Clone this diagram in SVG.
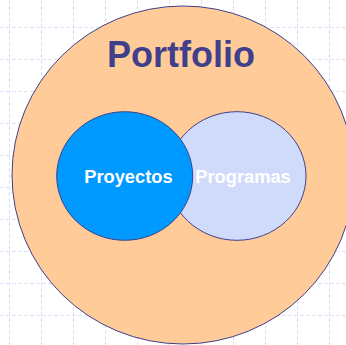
<svg xmlns="http://www.w3.org/2000/svg" width="346" height="345" viewBox="0 0 346 345">
<defs>
<style>
.grid line{stroke:#DCE2F6;stroke-width:1;stroke-dasharray:4 2}
.shape{stroke:#3F3F8C;stroke-width:1}
.lbl{font-family:"Liberation Sans",Arial,sans-serif;font-weight:bold;text-anchor:middle}
</style>
</defs>
<rect width="346" height="345" fill="#FFFFFF"/>
<g class="grid">
<line x1="9.5" y1="0" x2="9.5" y2="345"/>
<line x1="41.5" y1="0" x2="41.5" y2="345"/>
<line x1="73.5" y1="0" x2="73.5" y2="345"/>
<line x1="105.5" y1="0" x2="105.5" y2="345"/>
<line x1="137.5" y1="0" x2="137.5" y2="345"/>
<line x1="169.5" y1="0" x2="169.5" y2="345"/>
<line x1="201.5" y1="0" x2="201.5" y2="345"/>
<line x1="233.5" y1="0" x2="233.5" y2="345"/>
<line x1="265.5" y1="0" x2="265.5" y2="345"/>
<line x1="297.5" y1="0" x2="297.5" y2="345"/>
<line x1="329.5" y1="0" x2="329.5" y2="345"/>
<line x1="0" y1="27.5" x2="346" y2="27.5"/>
<line x1="0" y1="59.5" x2="346" y2="59.5"/>
<line x1="0" y1="91.5" x2="346" y2="91.5"/>
<line x1="0" y1="123.5" x2="346" y2="123.5"/>
<line x1="0" y1="155.5" x2="346" y2="155.5"/>
<line x1="0" y1="187.5" x2="346" y2="187.5"/>
<line x1="0" y1="219.5" x2="346" y2="219.5"/>
<line x1="0" y1="251.5" x2="346" y2="251.5"/>
<line x1="0" y1="283.5" x2="346" y2="283.5"/>
<line x1="0" y1="315.5" x2="346" y2="315.5"/>
</g>
<g id="portfolio">
<ellipse class="shape" cx="183" cy="175" rx="171" ry="169" fill="#FFCC99"/>
<text class="lbl" x="181" y="67" font-size="36" fill="#3F3F8C">Portfolio</text>
</g>
<g id="programas">
<ellipse class="shape" cx="237" cy="176" rx="69" ry="64.3" fill="#D0DBFC"/>
<text class="lbl" x="243" y="183" font-size="18.3" fill="#FFFFFF">Programas</text>
</g>
<g id="proyectos">
<ellipse class="shape" cx="124.7" cy="176" rx="68" ry="64.3" fill="#0099FF"/>
<text class="lbl" x="128.4" y="183" font-size="18.3" fill="#FFFFFF">Proyectos</text>
</g>
<g id="connectors"></g>
</svg>
